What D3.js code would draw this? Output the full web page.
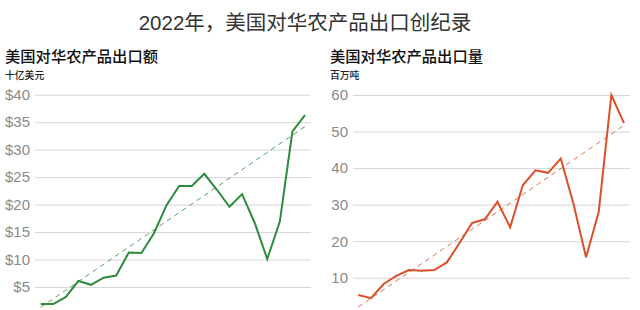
<!DOCTYPE html>
<html>
<head>
<meta charset="utf-8">
<script src="https://cdn.jsdelivr.net/npm/d3@7"></script>
<style>
  body { margin: 0; background: #fff; }
  svg { display: block; font-family: "Liberation Sans", "Noto Sans CJK SC", sans-serif; }
</style>
</head>
<body>
<svg id="chart" width="640" height="310"></svg>
<script>
const years = [2001, 2002, 2003, 2004, 2005, 2006, 2007, 2008, 2009, 2010, 2011,
               2012, 2013, 2014, 2015, 2016, 2017, 2018, 2019, 2020, 2021, 2022];
// 十亿美元
const exportValue = [1.9, 1.9, 3.2, 6.1, 5.4, 6.7, 7.1, 11.3, 11.2, 14.8, 19.9,
                     23.4, 23.4, 25.6, 22.7, 19.6, 21.9, 16.7, 10.1, 16.9, 33.3, 36.3];
// 百万吨
const exportVolume = [5.3, 4.4, 8.3, 10.5, 12.1, 11.9, 12.1, 14.2, 19.5, 25.0, 26.0,
                      30.8, 23.8, 35.3, 39.4, 38.7, 42.6, 30.3, 15.6, 28.0, 60.0, 52.3];
// trend line ends (first year, last year)
const valueTrend = [1.3, 34.2];
const volumeTrend = [2.0, 51.7];
const valueTicks = [5, 10, 15, 20, 25, 30, 35, 40];
const volumeTicks = [10, 20, 30, 40, 50, 60];

var svg = d3.select("#chart");

svg.append("text")
    .attr("x", 305)
    .attr("y", 30)
    .attr("text-anchor", "middle")
    .attr("font-size", 20.5)
    .attr("fill", "#333")
    .text("2022年，美国对华农产品出口创纪录");

function drawPanel(opt) {
    var g = svg.append("g");

    g.append("text")
        .attr("x", opt.left)
        .attr("y", 62)
        .attr("font-size", 15.3)
        .attr("font-weight", 500)
        .attr("fill", "#111")
        .text(opt.title);

    g.append("text")
        .attr("x", opt.left)
        .attr("y", 79)
        .attr("font-size", 9.8)
        .attr("font-weight", 500)
        .attr("fill", "#222")
        .text(opt.unit);

    var x = d3.scaleLinear()
        .domain(d3.extent(years))
        .range(opt.xRange);

    var y = d3.scaleLinear()
        .domain([0, opt.max])
        .range(opt.yRange);

    // grid + labels
    var axis = g.append("g")
        .attr("transform", "translate(" + opt.gridX[0] + ",0)")
        .call(d3.axisLeft(y)
            .tickValues(opt.ticks)
            .tickSizeInner(-(opt.gridX[1] - opt.gridX[0]))
            .tickSizeOuter(0)
            .tickPadding(5)
            .tickFormat(opt.fmt));
    axis.select(".domain").remove();
    axis.selectAll("line").attr("stroke", "#d6d6d6").attr("stroke-width", 1);
    axis.selectAll("text")
        .attr("fill", "#8a8a8a")
        .attr("font-size", opt.labelSize)
        .attr("font-family", "Liberation Sans, sans-serif");

    // dashed trend
    g.append("line")
        .attr("x1", x(years[0]))
        .attr("y1", y(opt.trend[0]))
        .attr("x2", x(years[years.length - 1]))
        .attr("y2", y(opt.trend[1]))
        .attr("stroke", opt.color)
        .attr("stroke-width", 1)
        .attr("stroke-dasharray", "5,4")
        .attr("opacity", 0.8);

    var line = d3.line()
        .x(function (d, i) { return x(years[i]); })
        .y(function (d) { return y(d); });

    g.append("path")
        .datum(opt.values)
        .attr("d", line)
        .attr("fill", "none")
        .attr("stroke", opt.color)
        .attr("stroke-width", 2)
        .attr("stroke-linejoin", "miter");
}

drawPanel({
    left: 5,
    title: "美国对华农产品出口额",
    unit: "十亿美元",
    values: exportValue,
    trend: valueTrend,
    ticks: valueTicks,
    max: 40,
    fmt: function (d) { return "$" + d; },
    labelSize: 15,
    color: "#2e8b3d",
    xRange: [40.7, 305],
    yRange: [314.5, 94.7],
    gridX: [35, 311]
});

drawPanel({
    left: 330,
    title: "美国对华农产品出口量",
    unit: "百万吨",
    values: exportVolume,
    trend: volumeTrend,
    ticks: volumeTicks,
    max: 60,
    fmt: function (d) { return d; },
    labelSize: 15,
    color: "#d9502b",
    xRange: [358.3, 624],
    yRange: [314.3, 95],
    gridX: [353, 630]
});
</script>
</body>
</html>
